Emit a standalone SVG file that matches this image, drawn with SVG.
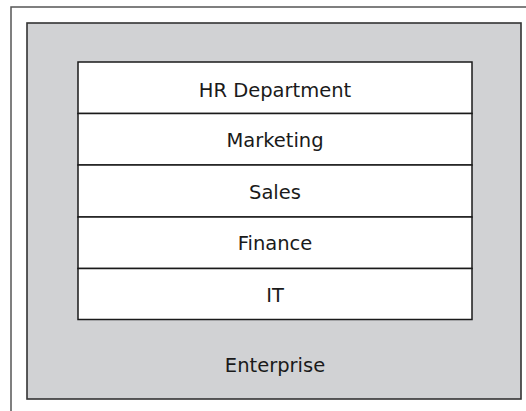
<svg xmlns="http://www.w3.org/2000/svg" width="526" height="411" viewBox="0 0 526 411">
<style>
text{font-family:"DejaVu Sans",sans-serif;font-size:19.5px;fill:#1a1a1a;text-anchor:middle}
.row{fill:#fff;stroke:#1a1a1a;stroke-width:1.5}
</style>
<rect x="0" y="0" width="526" height="411" fill="#fff"/>
<path d="M11,411 V7 H530" fill="none" stroke="#555" stroke-width="1.5"/>
<g id="enterprise">
<rect x="27" y="23" width="494" height="376" fill="#d1d2d4" stroke="#333" stroke-width="1.6"/>
<text x="275" y="372">Enterprise</text>
</g>
<g id="hr"><rect class="row" x="78" y="62" width="394" height="51.5"/><text x="275" y="97">HR Department</text></g>
<g id="marketing"><rect class="row" x="78" y="113.5" width="394" height="51.5"/><text x="275" y="147">Marketing</text></g>
<g id="sales"><rect class="row" x="78" y="165" width="394" height="52"/><text x="275" y="198.5">Sales</text></g>
<g id="finance"><rect class="row" x="78" y="217" width="394" height="51.5"/><text x="275" y="250">Finance</text></g>
<g id="it"><rect class="row" x="78" y="268.5" width="394" height="51"/><text x="275" y="301.5">IT</text></g>
<g id="connectors"></g>
</svg>
